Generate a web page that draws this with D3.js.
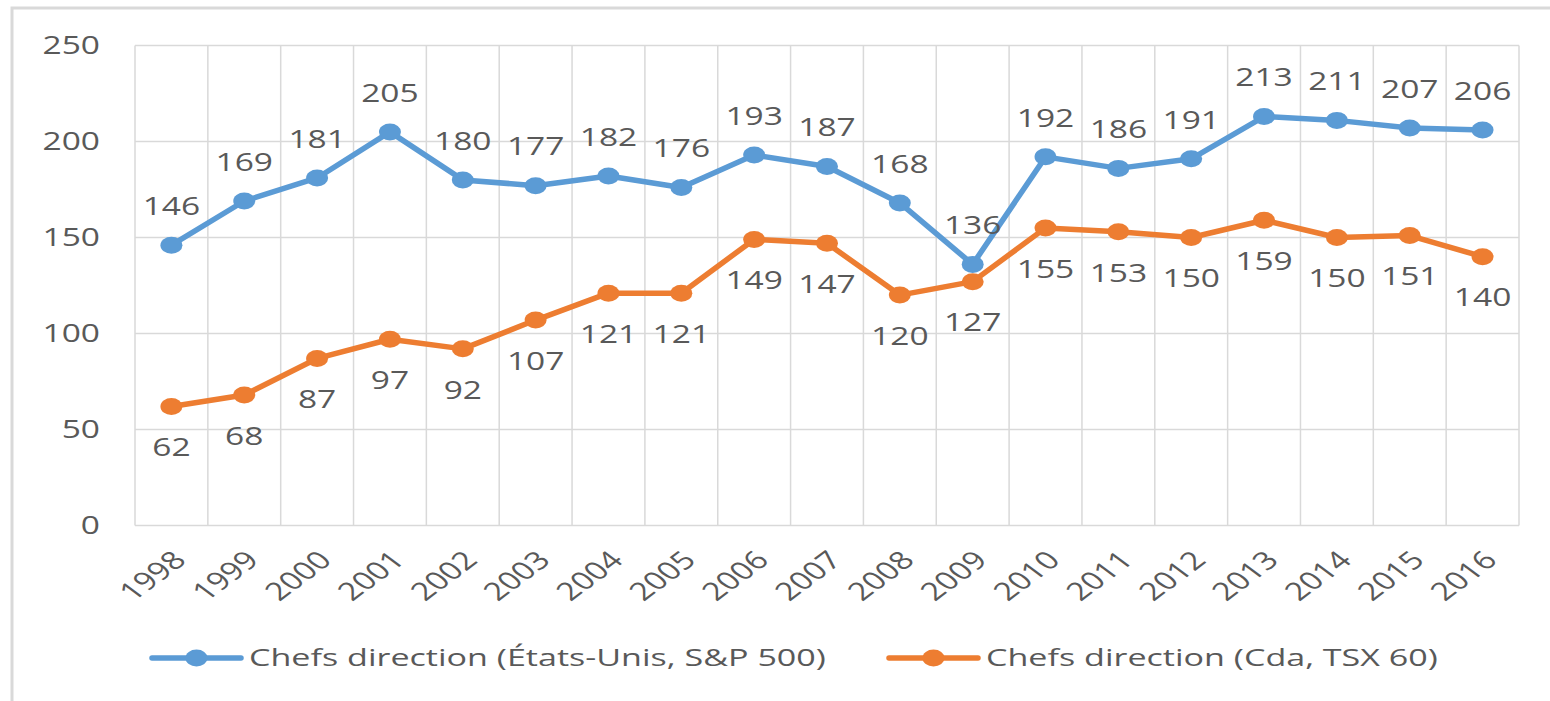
<!DOCTYPE html>
<html>
<head>
<meta charset="utf-8">
<script src="https://cdn.jsdelivr.net/npm/d3@7"></script>
<style>
  body { margin: 0; background: #fff; }
  text { font-family: "Open Sans", sans-serif; fill: #595959; }
</style>
</head>
<body>
<div class="chart"></div>
<script>
// data
const years = ['1998','1999','2000','2001','2002','2003','2004','2005','2006','2007','2008','2009','2010','2011','2012','2013','2014','2015','2016'];
const usa = [146,169,181,205,180,177,182,176,193,187,168,136,192,186,191,213,211,207,206];
const cda = [62,68,87,97,92,107,121,121,149,147,120,127,155,153,150,159,150,151,140];
const yTicks = [0,50,100,150,200,250];
const seriesNames = ['Chefs direction (États-Unis, S&P 500)', 'Chefs direction (Cda, TSX 60)'];

const width = 1550, height = 701;
const margin = { top: 45.5, right: 31, bottom: 175.5, left: 135 };
const chart_width = width - margin.left - margin.right;
const chart_height = height - margin.top - margin.bottom;
const sx = 1.34; // the picture is stretched sideways
const blue = '#5B9BD5', orange = '#ED7D31', grid = '#D9D9D9';

const svg = d3.select('.chart').append('svg')
  .attr('width', width).attr('height', height);

svg.append('rect')
  .attr('x', 12).attr('y', 8).attr('width', 1560).attr('height', 720)
  .attr('fill', 'none').attr('stroke', grid).attr('stroke-width', 3);

const g = svg.append('g').attr('transform', `translate(${margin.left},${margin.top})`);

const xScale = d3.scaleBand().domain(years).range([0, chart_width]);
const yScale = d3.scaleLinear().domain([0, 250]).range([chart_height, 0]);
const cx = d => xScale(d) + xScale.bandwidth() / 2;

// grid
g.append('g').selectAll('line').data(yTicks).join('line')
  .attr('x1', 0).attr('x2', chart_width)
  .attr('y1', d => yScale(d)).attr('y2', d => yScale(d))
  .attr('stroke', grid).attr('stroke-width', 1.5);
const edges = years.map(d => xScale(d)).concat([chart_width]);
g.append('g').selectAll('line').data(edges).join('line')
  .attr('x1', d => d).attr('x2', d => d)
  .attr('y1', 0).attr('y2', chart_height)
  .attr('stroke', grid).attr('stroke-width', 1.5);

// y labels
g.append('g').selectAll('text').data(yTicks).join('text')
  .attr('transform', d => `translate(-35,${yScale(d)}) scale(${sx},1)`)
  .attr('text-anchor', 'end').attr('dy', '0.35em')
  .style('font-size', '25px').text(d => d);

// x labels
g.append('g').selectAll('text').data(years).join('text')
  .attr('transform', d => `translate(${cx(d) + 8},${chart_height + 30}) scale(${sx},1) rotate(-45)`)
  .attr('text-anchor', 'end').attr('dy', '0.35em')
  .style('font-size', '25px').text(d => d);

const line = d3.line().x((d, i) => cx(years[i])).y(d => yScale(d));

function drawSeries(values, color, above) {
  g.append('path').datum(values)
    .attr('d', line).attr('fill', 'none')
    .attr('stroke', color).attr('stroke-width', 5.5).attr('stroke-linejoin', 'round');
  g.append('g').selectAll('ellipse').data(values).join('ellipse')
    .attr('cx', (d, i) => cx(years[i])).attr('cy', d => yScale(d))
    .attr('rx', 11).attr('ry', 8.5).attr('fill', color);
  g.append('g').selectAll('text').data(values).join('text')
    .attr('transform', (d, i) => `translate(${cx(years[i])},${yScale(d) + (above ? -39 : 41)}) scale(${sx},1)`)
    .attr('text-anchor', 'middle').attr('dy', '0.35em')
    .style('font-size', '25px').text(d => d);
}
drawSeries(usa, blue, true);
drawSeries(cda, orange, false);

// legend
const legend = [
  { name: seriesNames[0], color: blue, x: 152 },
  { name: seriesNames[1], color: orange, x: 889 }
];
const lg = svg.append('g').selectAll('g').data(legend).join('g')
  .attr('transform', d => `translate(${d.x},658)`);
lg.append('line').attr('x1', 0).attr('x2', 89)
  .attr('stroke', d => d.color).attr('stroke-width', 5.5).attr('stroke-linecap', 'round');
lg.append('ellipse').attr('cx', 44.5).attr('rx', 11).attr('ry', 8.5).attr('fill', d => d.color);
lg.append('text')
  .attr('transform', 'translate(97,0) scale(1.42,1)')
  .attr('dy', '0.35em').style('font-size', '24px')
  .text(d => d.name);
</script>
</body>
</html>
